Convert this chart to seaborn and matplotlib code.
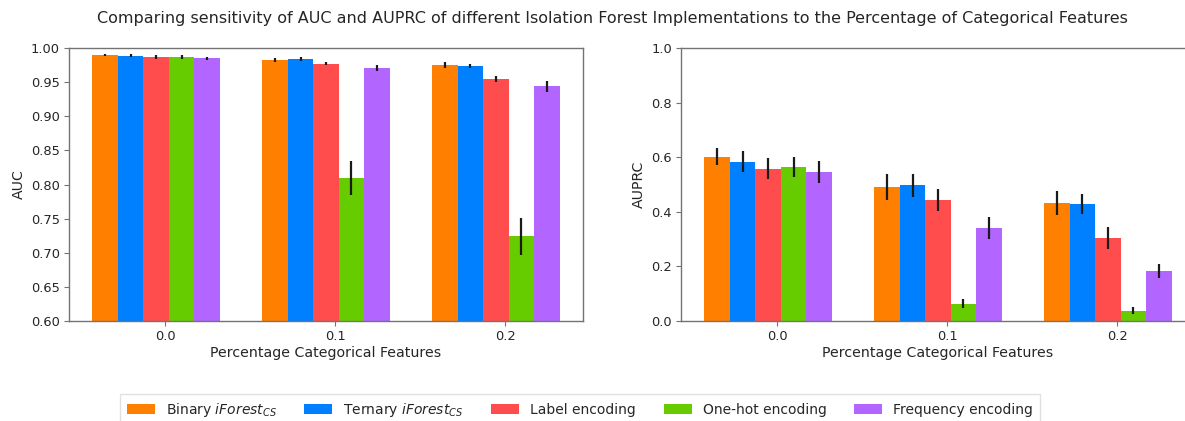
import numpy as np
import pandas as pd
import seaborn as sns
import matplotlib.pyplot as plt
from matplotlib.container import BarContainer

# ---------------- data ----------------
pct_labels = ["0.0", "0.1", "0.2"]
methods = ["Binary $\\it{iForest}_{CS}$", "Ternary $\\it{iForest}_{CS}$",
           "Label encoding", "One-hot encoding", "Frequency encoding"]
colors = ["#FF7F00", "#007FFF", "#FF4D4D", "#66CC00", "#B266FF"]

# AUC means / errors per method (for 0.0, 0.1, 0.2)
auc_binary = [0.990, 0.982, 0.975]
auc_ternary = [0.989, 0.984, 0.974]
auc_label = [0.987, 0.977, 0.955]
auc_onehot = [0.987, 0.809, 0.724]
auc_freq = [0.985, 0.971, 0.944]
auc_binary_err = [0.0015, 0.0027, 0.004]
auc_ternary_err = [0.0015, 0.0025, 0.003]
auc_label_err = [0.003, 0.0025, 0.0046]
auc_onehot_err = [0.003, 0.025, 0.0275]
auc_freq_err = [0.0025, 0.004, 0.008]

# AUPRC means / errors per method
auprc_binary = [0.601, 0.491, 0.432]
auprc_ternary = [0.584, 0.498, 0.428]
auprc_label = [0.558, 0.443, 0.304]
auprc_onehot = [0.565, 0.064, 0.038]
auprc_freq = [0.547, 0.340, 0.182]
auprc_binary_err = [0.031, 0.048, 0.044]
auprc_ternary_err = [0.039, 0.042, 0.037]
auprc_label_err = [0.039, 0.039, 0.040]
auprc_onehot_err = [0.037, 0.017, 0.014]
auprc_freq_err = [0.040, 0.040, 0.026]

auc_means = [auc_binary, auc_ternary, auc_label, auc_onehot, auc_freq]
auc_errs = [auc_binary_err, auc_ternary_err, auc_label_err, auc_onehot_err, auc_freq_err]
auprc_means = [auprc_binary, auprc_ternary, auprc_label, auprc_onehot, auprc_freq]
auprc_errs = [auprc_binary_err, auprc_ternary_err, auprc_label_err, auprc_onehot_err, auprc_freq_err]


def to_df(means):
    rows = []
    for m, vals in zip(methods, means):
        for p, v in zip(pct_labels, vals):
            rows.append({"pct": p, "method": m, "value": v})
    return pd.DataFrame(rows)


# ---------------- style ----------------
sns.set_style("white")
plt.rcParams.update({
    "font.family": ["DejaVu Sans"],
    "axes.edgecolor": "0.45",
    "axes.linewidth": 1.0,
    "xtick.bottom": True,
    "ytick.left": True,
    "xtick.color": "0.45",
    "ytick.color": "0.45",
    "xtick.labelcolor": "0.15",
    "ytick.labelcolor": "0.15",
    "xtick.labelsize": 9.4,
    "ytick.labelsize": 9.4,
    "axes.labelsize": 10.2,
    "axes.labelcolor": "0.15",
    "text.color": "0.15",
})

fig = plt.figure(figsize=(11.85, 4.21), dpi=100)
ax1 = fig.add_axes([69 / 1185, 1 - 321 / 421, 514 / 1185, 273 / 421])
ax2 = fig.add_axes([681 / 1185, 1 - 321 / 421, 514 / 1185, 273 / 421])


def draw(ax, means, errs, ylabel, ylim, yticks, fmt):
    df = to_df(means)
    sns.barplot(data=df, x="pct", y="value", hue="method", hue_order=methods,
                order=pct_labels, palette=colors, saturation=1, width=0.75,
                errorbar=None, linewidth=0, legend=False, ax=ax)
    bars = [c for c in ax.containers if isinstance(c, BarContainer)]
    for cont, mv, ev in zip(bars, means, errs):
        xs = [p.get_x() + p.get_width() / 2 for p in cont]
        ax.errorbar(xs, mv, yerr=ev, fmt="none", ecolor="#1a1a1a",
                    elinewidth=1.6, capsize=0, zorder=5)
    ax.set_xlim(-0.5125, 2.5125)
    ax.set_xticks([i + 0.055 for i in range(len(pct_labels))], pct_labels)
    ax.set_ylim(*ylim)
    ax.set_yticks(yticks, [fmt.format(t) for t in yticks])
    ax.set_xlabel("Percentage Categorical Features", labelpad=2)
    ax.set_ylabel(ylabel)
    ax.tick_params(length=3.5, width=0.8, pad=3)
    for s in ax.spines.values():
        s.set_visible(True)
    return bars


bars1 = draw(ax1, auc_means, auc_errs, "AUC", (0.6, 1.0),
             list(np.round(np.arange(0.60, 1.001, 0.05), 2)), "{:.2f}")
draw(ax2, auprc_means, auprc_errs, "AUPRC", (0.0, 1.0),
     list(np.round(np.arange(0.0, 1.001, 0.2), 1)), "{:.1f}")

handles = [c.patches[0] for c in bars1]
fig.legend(handles, methods, loc="upper center", ncol=5,
           bbox_to_anchor=(580 / 1185, 1 - 387 / 421), fontsize=10,
           frameon=True, fancybox=False, edgecolor="0.85",
           columnspacing=2.0, handlelength=2.0, borderpad=0.5)

fig.suptitle("Comparing sensitivity of AUC and AUPRC of different Isolation Forest "
             "Implementations to the Percentage of Categorical Features",
             x=612 / 1185, y=1 - 18 / 421, va="center", fontsize=11.55)

fig.savefig("out.png", dpi=100)
